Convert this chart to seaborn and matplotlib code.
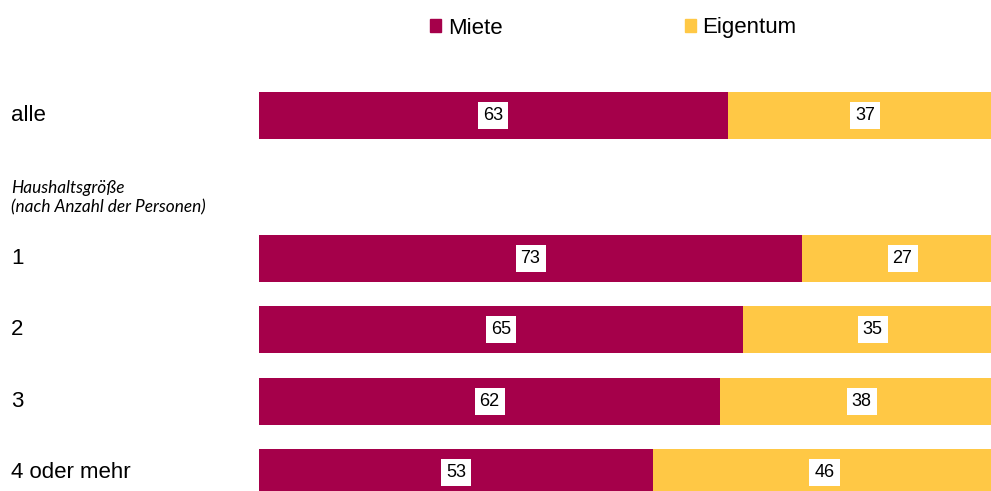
import pandas as pd
import matplotlib.pyplot as plt
import matplotlib.transforms as mtransforms
from matplotlib.patches import Patch
import seaborn as sns

# data (percent)
groups = ['alle', '1', '2', '3', '4 oder mehr']
miete = [63, 73, 65, 62, 53]
eigentum = [37, 27, 35, 38, 46]
order = ['alle', '', '1', '2', '3', '4 oder mehr']

c_miete = '#A5004A'
c_eigen = '#FFC845'

df = pd.DataFrame({'Gruppe': groups, 'Miete': miete, 'Eigentum': eigentum})
df['Gesamt'] = df['Miete'] + df['Eigentum']

sns.set_style('white')
plt.rcParams['font.family'] = ['Liberation Sans', 'DejaVu Sans']
plt.rcParams['text.color'] = 'black'

fig = plt.figure(figsize=(9.91, 4.91), dpi=100)
ax = fig.add_axes([259 / 991, 0, 744 / 991, 1])

# stacked bars: total (Eigentum colour) underneath, Miete on top
sns.barplot(data=df, y='Gruppe', x='Gesamt', order=order, color=c_eigen,
            saturation=1, width=0.66, errorbar=None, orient='h', ax=ax, linewidth=0)
sns.barplot(data=df, y='Gruppe', x='Miete', order=order, color=c_miete,
            saturation=1, width=0.66, errorbar=None, orient='h', ax=ax, linewidth=0)

ax.set_xlim(0, 100)
ax.set_ylim(5.26, -1.62)
ax.axis('off')

pos = {g: i for i, g in enumerate(order)}
box = dict(facecolor='white', edgecolor='none', pad=3.6)
for g, m, e in zip(groups, miete, eigentum):
    y = pos[g]
    ax.text(m / 2, y, str(m), ha='center', va='center', fontsize=13, bbox=box)
    ax.text(m + e / 2, y, str(e), ha='center', va='center', fontsize=13, bbox=box)

# category labels on the left
trans = mtransforms.blended_transform_factory(fig.transFigure, ax.transData)
for g in groups:
    ax.text(11 / 991, pos[g], g, transform=trans, ha='left', va='center',
            fontsize=16, clip_on=False)
ax.text(11 / 991, 1.15, 'Haushaltsgröße\n(nach Anzahl der Personen)', transform=trans,
        ha='left', va='center', fontsize=12.4, fontstyle='italic',
        family=['Lato', 'DejaVu Sans'], linespacing=1.25, clip_on=False)

handles = [Patch(color=c_miete, label='Miete'), Patch(color=c_eigen, label='Eigentum')]
fig.legend(handles=handles, loc='center left', bbox_to_anchor=(430 / 991, 1 - 28 / 491),
           ncol=2, frameon=False, fontsize=16, handlelength=0.5, handleheight=0.5,
           handletextpad=0.3, columnspacing=8.2, borderpad=0, borderaxespad=0)

fig.savefig('out.png', dpi=100)
